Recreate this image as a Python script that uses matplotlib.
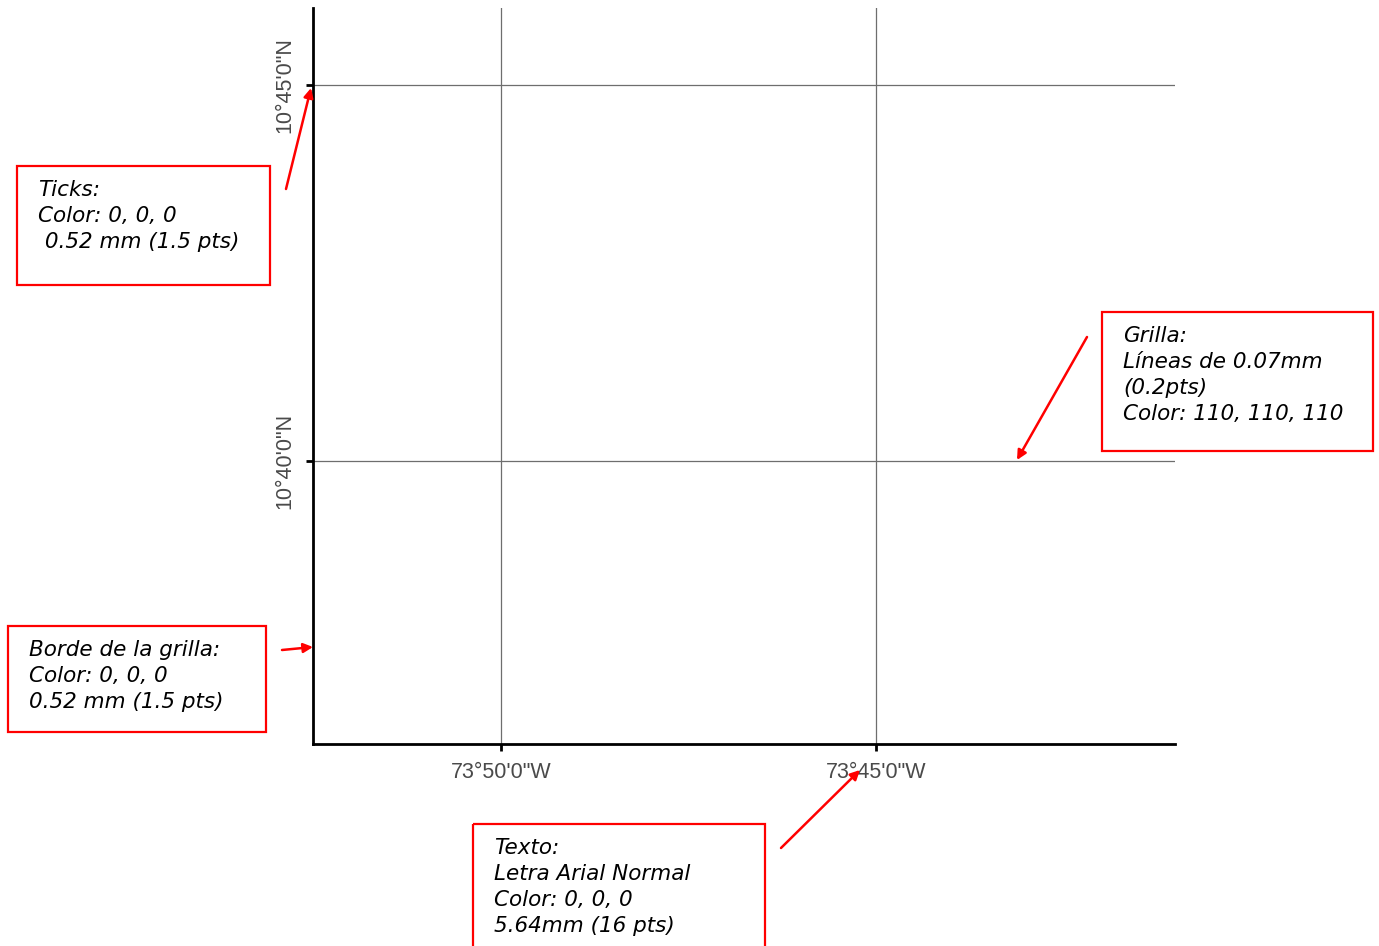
import matplotlib.pyplot as plt
from matplotlib.patches import Rectangle

# grid ticks (decimal degrees) and their labels
lon_ticks = [-73.0 - 50 / 60, -73.0 - 45 / 60]
lon_labels = ['73°50\'0"W', '73°45\'0"W']
lat_ticks = [10.0 + 40 / 60, 10.0 + 45 / 60]
lat_labels = ['10°40\'0"N', '10°45\'0"N']
lon_lim = (-73.8751, -73.6836)
lat_lim = (10.6040, 10.7671)

# callout boxes: (left, top, right, bottom) in pixels, text lines
notes = [
    ((17, 166, 270, 285), ['Ticks:', 'Color: 0, 0, 0', ' 0.52 mm (1.5 pts)']),
    ((1102, 312, 1373, 451), ['Grilla:', 'Líneas de 0.07mm', '(0.2pts)', 'Color: 110, 110, 110']),
    ((8, 626, 266, 732), ['Borde de la grilla:', 'Color: 0, 0, 0', '0.52 mm (1.5 pts)']),
    ((473, 824, 765, 960), ['Texto:', 'Letra Arial Normal', 'Color: 0, 0, 0', '5.64mm (16 pts)']),
]
# arrows: (start, end) in pixels
arrows = [
    ((286, 189), (311, 88)),
    ((1087, 337), (1017, 460)),
    ((282, 650), (313, 647)),
    ((781, 848), (860, 770)),
]

W, H = 1379, 946
fig = plt.figure(figsize=(W / 100, H / 100), dpi=100)

ax = fig.add_axes([313 / W, (H - 744) / H, (1175 - 313) / W, (744 - 8) / H])
ax.set_xlim(*lon_lim)
ax.set_ylim(*lat_lim)
ax.set_xticks(lon_ticks)
ax.set_xticklabels(lon_labels)
ax.set_yticks(lat_ticks)
ax.set_yticklabels(lat_labels, rotation=90, va='center')
for s in ['top', 'right']:
    ax.spines[s].set_visible(False)
for s in ['left', 'bottom']:
    ax.spines[s].set_linewidth(2.0)
    ax.spines[s].set_color('black')
ax.tick_params(direction='out', length=5, width=2.0, color='black',
               labelsize=15.5, labelcolor='#4a4a4a', pad=8)
for lab in ax.get_xticklabels() + ax.get_yticklabels():
    lab.set_family('Liberation Sans')
ax.grid(True, color=(110 / 255, 110 / 255, 110 / 255), linewidth=0.9)
ax.set_axisbelow(True)

# overlay in pixel coordinates for the callouts
ov = fig.add_axes([0, 0, 1, 1])
ov.set_xlim(0, W)
ov.set_ylim(H, 0)
ov.axis('off')
ov.patch.set_alpha(0)

for (l, t, r, b), lines in notes:
    ov.add_patch(Rectangle((l, t), r - l, b - t, fill=False, edgecolor='red', linewidth=1.6))
    for i, line in enumerate(lines):
        ov.text(l + 21, t + 24 + 26 * i, line, fontsize=15.5, style='italic',
                family='DejaVu Sans', va='center', ha='left', color='black')

for (x0, y0), (x1, y1) in arrows:
    ov.annotate('', xy=(x1, y1), xytext=(x0, y0),
                arrowprops=dict(arrowstyle='-|>', color='red', lw=1.8,
                                mutation_scale=14, shrinkA=0, shrinkB=0))

fig.savefig('out.png', dpi=100)
